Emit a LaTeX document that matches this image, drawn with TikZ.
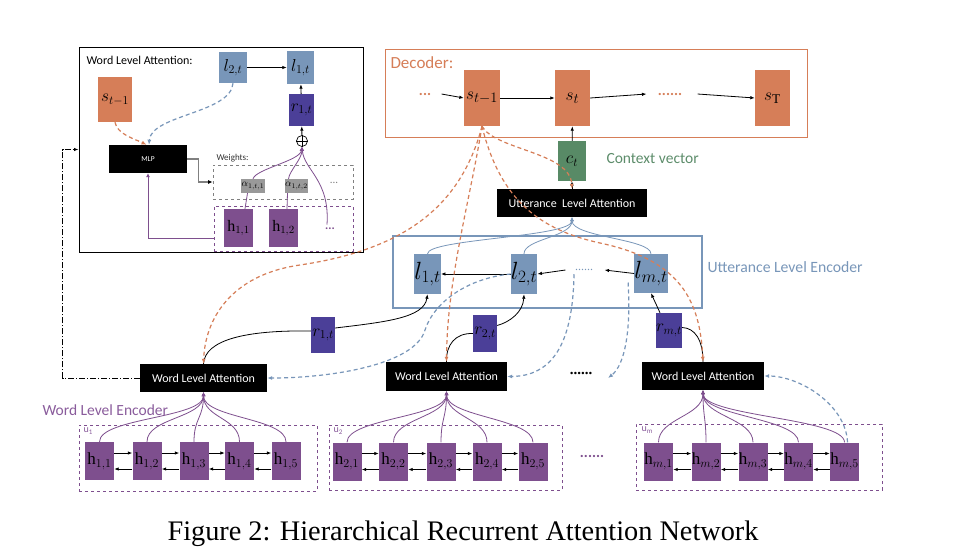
\documentclass[tikz,border=0pt]{standalone}
\usepackage{fontspec}
\setmainfont{Liberation Serif}
\newfontfamily\calfont{Carlito}
\usetikzlibrary{arrows.meta,calc}
\definecolor{dorange}{HTML}{D67E58}
\definecolor{lblue}{HTML}{7896B9}
\definecolor{rpurple}{HTML}{4B3F98}
\definecolor{hpurple}{HTML}{7E4F8E}
\definecolor{cgreen}{HTML}{588A66}
\definecolor{txtpurple}{HTML}{8A5C9C}
\definecolor{txtgreen}{HTML}{5D8D6B}
\definecolor{agray}{HTML}{999999}
\begin{document}
\begin{tikzpicture}[x=1pt,y=-1pt,
  blk/.style={fill=black,text=white,inner sep=0pt,font=\calfont\fontsize{12}{12}\selectfont},
  sbox/.style={fill=dorange,inner sep=0pt},
  lbox/.style={fill=lblue,inner sep=0pt},
  rbox/.style={fill=rpurple,inner sep=0pt},
  abox/.style={fill=agray,inner sep=0pt,minimum height=14pt,font=\fontsize{10}{10}\selectfont},
  hbox/.style={fill=hpurple,inner sep=0pt,minimum width=29pt,minimum height=38pt,font=\fontsize{17}{17}\selectfont},
  arr/.style={line width=0.8pt,-{Latex[length=4.5pt,width=3.5pt]}},
  plain/.style={line width=0.8pt},
  odash/.style={dorange,line width=1.2pt,dash pattern=on 4pt off 3pt,-{Latex[length=5pt,width=4pt]}},
  bdash/.style={lblue,line width=1.2pt,dash pattern=on 4pt off 3pt,-{Latex[length=5pt,width=4pt]}},
  parc/.style={hpurple,line width=0.8pt,-{Latex[length=4pt,width=4pt]}},
  barc/.style={lblue,line width=0.8pt,-{Latex[length=4pt,width=4pt]}},
  grpbox/.style={draw=hpurple,dashed,line width=0.8pt,inner sep=0pt},
]
\fill[white] (0,0) rectangle (955,554);
\useasboundingbox (0,0) rectangle (955,554);

% ---------------- inset -----------------
\node[draw=black,line width=1pt,minimum width=284pt,minimum height=205pt,inner sep=0pt] (inset) at (221,149.5) {};
\node[anchor=west,font=\calfont\fontsize{12}{12}\selectfont] (wlatitle) at (83,60) {Word Level Attention:};
\node[sbox,minimum width=34pt,minimum height=45pt,font=\fontsize{17}{17}\selectfont] (is1) at (115,99.5) {$s_{t-1}$};
\node[lbox,minimum width=28pt,minimum height=31pt,font=\fontsize{17}{17}\selectfont] (il2) at (233,67.5) {$l_{2,t}$};
\node[lbox,minimum width=27pt,minimum height=33pt,font=\fontsize{17}{17}\selectfont] (il1) at (300.5,67.5) {$l_{1,t}$};
\node[rbox,minimum width=25pt,minimum height=32pt,font=\fontsize{17}{17}\selectfont] (ir1) at (301.5,110) {$r_{1,t}$};
\node[circle,draw,inner sep=0pt,minimum size=11pt,line width=0.7pt] (op) at (302,141) {};
\draw[line width=0.7pt] (op.north) -- (op.south) (op.west) -- (op.east);
\node[blk,minimum width=78pt,minimum height=28pt,font=\calfont\fontsize{7.5}{7.5}\selectfont] (mlp) at (148,159) {MLP};
\node[draw=gray,dashed,line width=0.8pt,minimum width=140pt,minimum height=34pt,inner sep=0pt] (wgt) at (283,182) {};
\node[anchor=west,font=\calfont\fontsize{9}{9}\selectfont,text=black!80] (wgtl) at (213,158) {Weights:};
\node[abox,minimum width=24pt] (a1) at (253,186) {$\alpha_{1,t,1}$};
\node[abox,minimum width=21pt] (a2) at (296.5,186) {$\alpha_{1,t,2}$};
\node[text=gray,font=\calfont\fontsize{11}{11}\selectfont] (adots) at (334,183) {...};
\node[grpbox,minimum width=139pt,minimum height=45pt] (ihb) at (283.5,228.5) {};
\node[hbox,font=\fontsize{16}{16}\selectfont] (ih1) at (238.5,228) {$\mathrm{h}_{1,1}$};
\node[hbox,font=\fontsize{16}{16}\selectfont] (ih2) at (283.5,228) {$\mathrm{h}_{1,2}$};
\node[text=hpurple,font=\calfont\bfseries\fontsize{12}{12}\selectfont] (ihd) at (330,229) {...};

\draw[arr] (il2) -- (il1);
\draw[arr] (ir1) -- (il1);
\draw[arr] (op) -- (ir1);
\draw[parc,-] ([xshift=6.5pt]ih1.north) -- ([xshift=-5.5pt]a1.south);
\draw[parc,-] ([xshift=3.5pt]ih2.north) -- ([xshift=-9pt]a2.south);
\draw[parc] (a1.north) .. controls +(3,-10) and +(-2,14) .. (op.south);
\draw[parc] ([xshift=-8pt]a2.north) .. controls +(1,-8) and +(0,12) .. (op.south);
\draw[parc] ([xshift=-3pt]ihd.north) .. controls (330,180) and (304,170) .. (op.south);
\draw[parc,line width=1pt] ([yshift=-9.5pt]ihb.west) -| (mlp.south);
\draw[gray,line width=1.4pt,-{Latex[length=4.5pt,width=4pt,color=black]}] (mlp.east) -- ++(11,0) |- (wgt.west);
\draw[odash] (is1.south) .. controls +(2,12) and +(-12,-6) .. ([xshift=-1.5pt]mlp.north);
\draw[bdash] (il2.south) .. controls +(-2,30) and +(2,-30) .. ([xshift=1pt]mlp.north);

% ---------------- decoder -----------------
\node[draw=dorange,line width=1pt,minimum width=422pt,minimum height=88pt,inner sep=0pt] (dec) at (596,93) {};
\node[anchor=west,text=dorange,font=\calfont\fontsize{17}{17}\selectfont] (decl) at (387,63) {Decoder:};
\node[sbox,minimum width=36pt,minimum height=56pt,font=\fontsize{19}{19}\selectfont] (ds1) at (482,98) {$s_{t-1}$};
\node[sbox,minimum width=35pt,minimum height=56pt,font=\fontsize{19}{19}\selectfont] (ds2) at (572.5,98) {$s_t$};
\node[sbox,minimum width=35pt,minimum height=56pt,font=\fontsize{19}{19}\selectfont] (dsT) at (772.5,98) {$s_{\mathrm{T}}$};
\node[text=dorange,font=\calfont\bfseries\fontsize{15}{15}\selectfont] (dd1) at (425,94) {...};
\node[text=dorange,font=\calfont\bfseries\fontsize{15}{15}\selectfont] (dd2) at (670,94) {......};
\node[fill=cgreen,minimum width=28pt,minimum height=40pt,inner sep=0pt,font=\fontsize{18}{18}\selectfont] (ct) at (572,161) {$c_t$};
\node[anchor=west,text=txtgreen,font=\calfont\fontsize{15.5}{15.5}\selectfont] (ctl) at (603,159) {Context vector};
\node[blk,minimum width=150pt,minimum height=28pt] (ula) at (572,203) {Utterance\ \ Level Attention};

\draw[arr] ([xshift=7pt]dd1.east) -- (ds1.west);
\draw[arr] (ds1) -- (ds2);
\draw[arr] (ds2.east) -- ([xshift=-8pt]dd2.west);
\draw[arr] ([xshift=12pt]dd2.east) -- (dsT.west);
\draw[arr] (ct) -- (ds2);
\draw[arr] (ula) -- (ct);

% ---------------- utterance encoder -----------------
\node[draw=lblue,line width=1.6pt,minimum width=309pt,minimum height=72pt,inner sep=0pt] (ule) at (547.5,272) {};
\node[anchor=west,text=lblue,font=\calfont\fontsize{15.7}{15.7}\selectfont] (ulel) at (704,267) {Utterance Level Encoder};
\node[lbox,minimum width=25pt,minimum height=40pt,font=\fontsize{24}{24}\selectfont] (l1) at (427.5,274) {$l_{1,t}$};
\node[lbox,minimum width=26pt,minimum height=40pt,font=\fontsize{24}{24}\selectfont] (l2) at (524,274) {$l_{2,t}$};
\node[lbox,minimum width=30pt,minimum height=39pt,font=\fontsize{24}{24}\selectfont] (lm) at (651,273.5) {$l_{m,t}$};
\node[text=lblue,font=\fontsize{12}{12}\selectfont] (udots) at (584,270) {......};
\node[rbox,minimum width=24pt,minimum height=36pt,font=\fontsize{18}{18}\selectfont] (r1) at (323,335) {$r_{1,t}$};
\node[rbox,minimum width=24pt,minimum height=37pt,font=\fontsize{18}{18}\selectfont] (r2) at (485,333.5) {$r_{2,t}$};
\node[rbox,minimum width=24pt,minimum height=35pt,font=\fontsize{18}{18}\selectfont] (rm) at (669,330.5) {$r_{m,t}$};

\draw[arr] (l2) -- (l1);
\draw[arr] (lm.west) -- ([xshift=8pt]udots.east);
\draw[arr] ([xshift=-6pt]udots.west) -- (l2.east);
\foreach \n in {l1,l2,lm}
  \draw[barc] (\n.north) .. controls +(0,-15) and +(0,20) .. (ula.south);

% ---------------- word level attention -----------------
\node[blk,minimum width=127pt,minimum height=28pt] (w1) at (203.5,378) {Word Level Attention};
\node[blk,minimum width=121pt,minimum height=29pt] (w2) at (446.5,376.5) {Word Level Attention};
\node[blk,minimum width=122pt,minimum height=28pt] (wm) at (703,376) {Word Level Attention};
\node[font=\bfseries\fontsize{15}{15}\selectfont] (wdots) at (581,373) {......};
\coordinate (wdend) at (608,378);

% r connectors
\draw[plain] (w1.north) .. controls (205,340) and (245,330) .. ([yshift=4pt]r1.west);
\draw[arr] ([yshift=7pt]r1.east) .. controls (385,322) and (424,318) .. (l1.south);
\draw[plain] (w2.north) .. controls (446,345) and (455,333) .. (r2.west);
\draw[arr] ([yshift=8pt]r2.east) .. controls (510,322) and (523,312) .. (l2.south);
\draw[plain] (wm.north) .. controls (703,340) and (695,328) .. ([yshift=3pt]rm.east);
\draw[arr] ([xshift=-9pt]rm.north) -- (lm.south);

% orange attention paths
\draw[odash] (ds1.south) .. controls (495,150) and (570,152) .. (ula.north);
\draw[odash] (ds1.south) .. controls (460,210) and (400,250) .. (300,265) .. controls (230,275) and (205,320) .. (w1.north);
\draw[odash] (ds1.south) .. controls (470,200) and (447,280) .. (w2.north);
\draw[odash] (ds1.south) .. controls (500,200) and (540,230) .. (600,243) .. controls (680,260) and (700,300) .. (wm.north);

% ---------------- word encoders -----------------
\node[grpbox,minimum width=238pt,minimum height=66pt] (g1) at (198,458) {};
\node[grpbox,minimum width=233pt,minimum height=65pt] (g2) at (445.5,457.5) {};
\node[grpbox,minimum width=246pt,minimum height=66pt] (gm) at (759,457) {};
\node[anchor=west,text=txtpurple,font=\calfont\fontsize{10}{10}\selectfont] (u1) at (80,431) {u\textsubscript{1}};
\node[anchor=west,text=txtpurple,font=\calfont\fontsize{10}{10}\selectfont] (u2) at (330,431) {u\textsubscript{2}};
\node[anchor=west,text=txtpurple,font=\calfont\fontsize{10}{10}\selectfont] (um) at (638,430) {u\textsubscript{m}};
\node[anchor=west,text=txtpurple,font=\calfont\fontsize{15.5}{15.5}\selectfont] (wlel) at (39,410) {Word Level Encoder};
\node[text=hpurple,font=\calfont\bfseries\fontsize{15}{15}\selectfont] (gdots) at (592,456) {......};

\foreach \x [count=\i] in {99.5,147,194,239.5,286}
  \node[hbox] (ha\i) at (\x,461) {$\mathrm{h}_{1,\i}$};
\foreach \x [count=\i] in {347,393.5,441,487,533}
  \node[hbox] (hb\i) at (\x,461.5) {$\mathrm{h}_{2,\i}$};
\foreach \x [count=\i] in {658.5,706,753,798.5,844.5}
  \node[hbox] (hm\i) at (\x,461.5) {$\mathrm{h}_{m,\i}$};

\foreach \g in {ha,hb,hm}{
  \foreach \i in {1,...,4}{
    \pgfmathtruncatemacro\j{\i+1}
    \draw[arr] ([yshift=8pt]\g\i.east) -- ([yshift=8pt]\g\j.west);
    \draw[arr] ([yshift=-8pt]\g\j.west) -- ([yshift=-8pt]\g\i.east);
  }
}
\foreach \i in {1,...,5}{
  \draw[parc] (ha\i.north) .. controls +(0,-24) and +(0,26) .. (w1.south);
  \draw[parc] (hb\i.north) .. controls +(0,-24) and +(0,26) .. (w2.south);
  \draw[parc] (hm\i.north) .. controls +(0,-24) and +(0,26) .. (wm.south);
}

% blue attention paths
\draw[bdash] (l2.west) .. controls (470,278) and (435,300) .. (425,330) .. controls (415,365) and (330,378) .. (w1.east);
\draw[bdash] ([xshift=-10pt]udots.south) .. controls (573,330) and (560,376) .. (w2.east);
\draw[bdash] ([xshift=-6pt,yshift=-9pt]lm.west) .. controls (631,330) and (625,365) .. (wdend);
\draw[bdash] ([xshift=3pt]hm5.north) .. controls (846,405) and (800,376) .. (wm.east);

% dash-dot link to the inset
\draw[line width=0.8pt,dash pattern=on 6pt off 2pt on 1pt off 2pt,-{Latex[length=4.5pt,width=3.5pt]}]
  (w1.west) -| ($(inset.west)+(-16,0)$) -- (inset.west);

% caption
\node[anchor=base,font=\fontsize{28.3}{28.3}\selectfont] (cap) at (463,540) {Figure 2: Hierarchical Recurrent Attention Network};
\end{tikzpicture}
\end{document}
